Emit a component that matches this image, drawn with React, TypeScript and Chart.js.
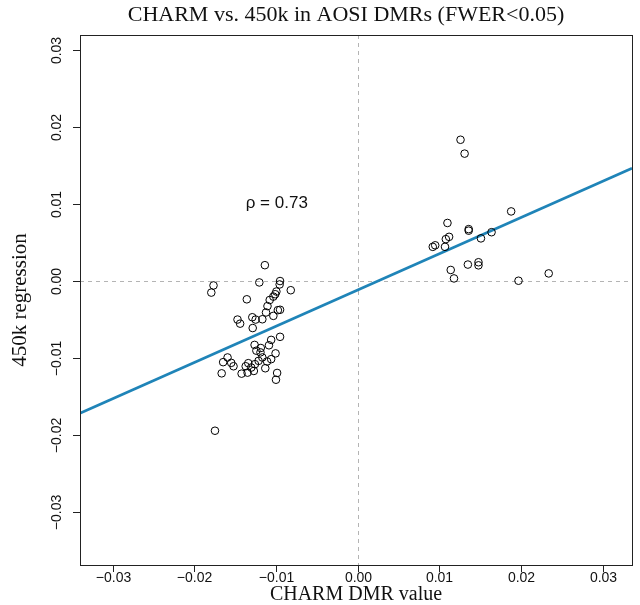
import React, { useEffect, useRef } from "react";
import { Chart, registerables } from "chart.js";

Chart.register(...registerables);

const titleText = "CHARM vs. 450k in AOSI DMRs (FWER<0.05)";
const xTitle = "CHARM DMR value";
const yTitle = "450k regression";
const rhoText = "ρ = 0.73";
const rhoPos = [-0.0099, 0.0101];

const xTicks = [-0.03, -0.02, -0.01, 0, 0.01, 0.02, 0.03];
const yTicks = [-0.03, -0.02, -0.01, 0, 0.01, 0.02, 0.03];
const tickLabels = ["\u22120.03", "\u22120.02", "\u22120.01", "0.00", "0.01", "0.02", "0.03"];

// CHARM DMR value (x) and 450k regression (y) for each DMR
const charmX = [
  // right cluster
  0.0126, 0.0131, 0.0188, 0.0110, 0.0136, 0.0136, 0.0164, 0.0151, 0.0112, 0.0108,
  0.0092, 0.0095, 0.0107, 0.0114, 0.0118, 0.0135, 0.0148, 0.0148, 0.0197, 0.0234,
  // left cluster, upper
  -0.01136, -0.01765, -0.01792, -0.01204, -0.0095, -0.00955, -0.00995, -0.01009, -0.01032, -0.00819,
  -0.01357, -0.01077, -0.01104, -0.01122, -0.00977, -0.0095, -0.01032, -0.01167, -0.0129, -0.01249,
  -0.01471, -0.01439, -0.01285,
  // left cluster, lower
  -0.0095, -0.01059, -0.01262, -0.01086, -0.01186, -0.0124, -0.0119, -0.01005, -0.01167, -0.01059,
  -0.01109, -0.01213, -0.01258, -0.01339, -0.01371, -0.01303, -0.01271, -0.01348, -0.01421, -0.01131,
  -0.01593, -0.01647, -0.01548, -0.0152, -0.01665, -0.00986, -0.01, -0.01747,
];
const regY = [
  0.0183, 0.0165, 0.0090, 0.0075, 0.0067, 0.0065, 0.0063, 0.0055, 0.0057, 0.0054,
  0.0044, 0.0046, 0.0044, 0.0014, 0.0003, 0.0021, 0.0024, 0.0020, 0.0, 0.00095,
  0.00202, -0.00061, -0.00154, -0.00022, -0.00004, -0.00048, -0.0014, -0.00175, -0.00206, -0.00123,
  -0.00241, -0.0025, -0.00329, -0.00412, -0.00382, -0.00377, -0.00456, -0.005, -0.00474, -0.00504,
  -0.00504, -0.00557, -0.00614,
  -0.00728, -0.00768, -0.00833, -0.00838, -0.00873, -0.00908, -0.0093, -0.00943, -0.00996, -0.01018,
  -0.01048, -0.0104, -0.01083, -0.0107, -0.0111, -0.01127, -0.01171, -0.01193, -0.01206, -0.01136,
  -0.00996, -0.01057, -0.01066, -0.0111, -0.01202, -0.01197, -0.01285, -0.01947,
];

// fitted line end points
const fitX = [-0.034, 0.0336];
const fitY = [-0.0172, 0.0146];

const xMin = -0.034;
const xMax = 0.0336;
const yMin = -0.0369;
const yMax = 0.0319;

const framePlugin = {
  id: "rframe",
  beforeDatasetsDraw(chart: any) {
    const { ctx, chartArea: a, scales } = chart;
    const x0 = scales.x.getPixelForValue(0);
    const y0 = scales.y.getPixelForValue(0);
    ctx.save();
    ctx.strokeStyle = "#b4b4b4";
    ctx.lineWidth = 1;
    ctx.setLineDash([4, 4]);
    ctx.beginPath();
    ctx.moveTo(Math.round(x0) + 0.5, a.top);
    ctx.lineTo(Math.round(x0) + 0.5, a.bottom);
    ctx.moveTo(a.left, Math.round(y0) + 0.5);
    ctx.lineTo(a.right, Math.round(y0) + 0.5);
    ctx.stroke();
    ctx.restore();
  },
  afterDraw(chart: any) {
    const { ctx, chartArea: a, scales } = chart;
    ctx.save();
    ctx.strokeStyle = "#222";
    ctx.lineWidth = 1;
    ctx.setLineDash([]);
    ctx.strokeRect(Math.round(a.left) + 0.5, Math.round(a.top) + 0.5, Math.round(a.right - a.left), Math.round(a.bottom - a.top));

    ctx.fillStyle = "#111";
    ctx.font = "14px 'Liberation Sans', Arial, sans-serif";
    // x ticks
    ctx.textAlign = "center";
    ctx.textBaseline = "middle";
    xTicks.forEach((v, i) => {
      const px = Math.round(scales.x.getPixelForValue(v)) + 0.5;
      ctx.beginPath();
      ctx.moveTo(px, a.bottom);
      ctx.lineTo(px, a.bottom + 7);
      ctx.stroke();
      ctx.fillText(tickLabels[i], px, a.bottom + 13);
    });
    // y ticks
    yTicks.forEach((v, i) => {
      const py = Math.round(scales.y.getPixelForValue(v)) + 0.5;
      ctx.beginPath();
      ctx.moveTo(a.left, py);
      ctx.lineTo(a.left - 7, py);
      ctx.stroke();
      ctx.save();
      ctx.translate(a.left - 23, py);
      ctx.rotate(-Math.PI / 2);
      ctx.fillText(tickLabels[i], 0, 0);
      ctx.restore();
    });

    // titles
    const cx = (a.left + a.right) / 2;
    const cy = (a.top + a.bottom) / 2;
    ctx.fillStyle = "#111";
    ctx.font = "22px 'Liberation Serif', 'Times New Roman', serif";
    ctx.textBaseline = "alphabetic";
    ctx.fillText(titleText, cx - 10, 21);
    ctx.font = "20px 'Liberation Serif', 'Times New Roman', serif";
    ctx.fillText(xTitle, cx, 600);
    ctx.font = "21px 'Liberation Serif', 'Times New Roman', serif";
    ctx.save();
    ctx.translate(26, cy);
    ctx.rotate(-Math.PI / 2);
    ctx.fillText(yTitle, 0, 0);
    ctx.restore();

    // rho annotation
    ctx.font = "17px 'Liberation Sans', Arial, sans-serif";
    ctx.textBaseline = "middle";
    ctx.fillText(rhoText, scales.x.getPixelForValue(rhoPos[0]), scales.y.getPixelForValue(rhoPos[1]));
    ctx.restore();
  },
};

export default function App() {
  const ref = useRef<HTMLCanvasElement | null>(null);
  useEffect(() => {
    if (!ref.current) return;
    const pts = charmX.map((x, i) => ({ x, y: regY[i] }));
    const fit = fitX.map((x, i) => ({ x, y: fitY[i] }));
    const chart = new Chart(ref.current, {
      type: "scatter",
      data: {
        datasets: [
          {
            data: pts,
            pointStyle: "circle",
            pointRadius: 3.8,
            pointBorderWidth: 1,
            pointBorderColor: "#000",
            pointBackgroundColor: "rgba(0,0,0,0)",
            showLine: false,
          },
          {
            data: fit,
            showLine: true,
            borderColor: "#1f84b8",
            borderWidth: 2.6,
            pointRadius: 0,
            fill: false,
          },
        ],
      },
      options: {
        responsive: false,
        animation: false,
        events: [],
        layout: { padding: { left: 80, right: 8, top: 35, bottom: 40 } },
        plugins: { legend: { display: false }, tooltip: { enabled: false }, title: { display: false } },
        scales: {
          x: { type: "linear", min: xMin, max: xMax, display: false },
          y: { type: "linear", min: yMin, max: yMax, display: false },
        },
      },
      plugins: [framePlugin],
    });
    return () => chart.destroy();
  }, []);
  return (
    <div style={{ position: "absolute", left: 0, top: 0, width: 640, height: 605, background: "#fff" }}>
      <canvas ref={ref} width={640} height={605} />
    </div>
  );
}
